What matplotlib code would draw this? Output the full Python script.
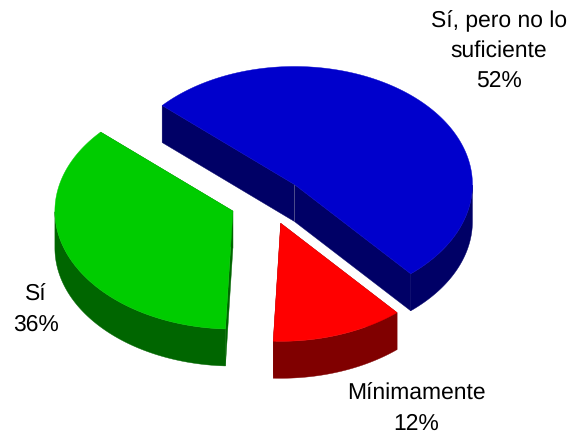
import numpy as np
import matplotlib
matplotlib.use('Agg')
import matplotlib.pyplot as plt
from matplotlib.patches import Polygon

plt.rcParams['font.family'] = ['Liberation Sans', 'DejaVu Sans']
plt.rcParams['text.hinting'] = 'none'

labels = ['Sí, pero no lo\nsuficiente\n52%', 'Mínimamente\n12%', 'Sí\n36%']
values = [52, 12, 36]
top_colors = ['#0000CC', '#FF0000', '#00CC00']
side_colors = ['#000066', '#800000', '#006600']
label_pos = [(499, 51), (416, 409), (36, 310)]

# pie geometry in pixels
cx, cy = 269, 201
rx, ry = 178, 118
depth = 37
explode = [0.2, 0.2, 0.22]
start = 138


def rim(t, ox, oy, dz=0):
    r = np.radians(t)
    return np.column_stack([ox + rx * np.cos(r), oy - ry * np.sin(r) + dz])


def wall(a, b, color, z):
    # quad between two top points and the same points pushed down
    pts = [a, b, (b[0], b[1] + depth), (a[0], a[1] + depth)]
    ax.add_patch(Polygon(pts, closed=True, fc=color, ec=color, lw=0.3, zorder=z))


fig = plt.figure(figsize=(5.71, 4.38), dpi=100)
ax = fig.add_axes([0, 0, 1, 1])
ax.set_xlim(0, 571)
ax.set_ylim(438, 0)
ax.axis('off')

angle = start
for i, v in enumerate(values):
    sweep = 360 * v / sum(values)
    t0, t1 = angle, angle - sweep
    angle = t1
    mid = np.radians((t0 + t1) / 2)
    ox = cx + explode[i] * rx * np.cos(mid)
    oy = cy - explode[i] * ry * np.sin(mid)
    ts = np.linspace(t0, t1, 200)
    arc = rim(ts, ox, oy)
    apex = (ox, oy)
    z = i * 5 + 1

    # radial walls, drawn first so the top covers their upper edge
    wall(apex, arc[0], side_colors[i], z)
    wall(apex, arc[-1], side_colors[i], z)
    if i == 0:
        ax.plot([ox, ox], [oy, oy + depth], color='#55558f', lw=0.6, zorder=z + 1)

    # outer side, only the part of the rim facing the viewer
    front = np.sin(np.radians(ts)) <= 0
    if front.any():
        low = arc[front]
        side = np.vstack([low, (low + [0, depth])[::-1]])
        ax.add_patch(Polygon(side, closed=True, fc=side_colors[i], ec=side_colors[i],
                             lw=0.3, zorder=z + 1))

    top = np.vstack([[apex], arc])
    ax.add_patch(Polygon(top, closed=True, fc=top_colors[i], ec=top_colors[i],
                         lw=0.3, zorder=z + 2))

for lab, (x, y) in zip(labels, label_pos):
    ax.text(x, y, lab, ha='center', va='center', fontsize=16.5, color='black',
            linespacing=1.5, zorder=30)

plt.savefig('out.png', dpi=100)
